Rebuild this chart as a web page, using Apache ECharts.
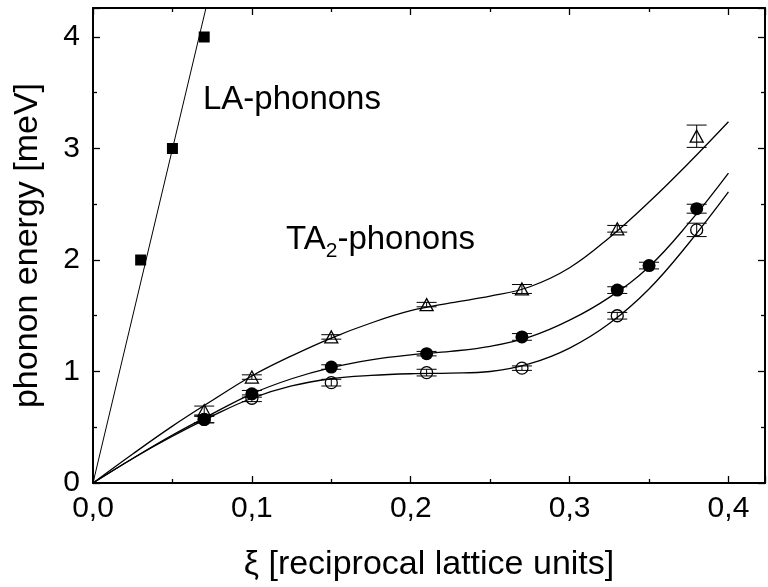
<!DOCTYPE html>
<html>
<head>
<meta charset="utf-8">
<title>phonon dispersion</title>
<script src="https://cdn.jsdelivr.net/npm/echarts@6/dist/echarts.min.js"></script>
<style>
  html, body { margin: 0; padding: 0; background: #fff; }
  #chart { width: 768px; height: 587px; }
</style>
</head>
<body>
<div id="chart"></div>
<script>
// LA-phonons: measured points and the straight fit line through the origin
const laX = [0.03, 0.05, 0.07];
const laY = [2, 3, 4];
const laLineX = [0, 0.0711];
const laLineY = [0, 4.26];

// TA2-phonons, three data sets (open triangles, filled circles, open circles)
const triX = [0.07, 0.10, 0.15, 0.21, 0.27, 0.33, 0.38];
const triY = [0.65, 0.95, 1.31, 1.60, 1.74, 2.28, 3.11];
const triErr = [0.04, 0.02, 0.02, 0.02, 0.04, 0.03, 0.10];

const dotX = [0.07, 0.10, 0.15, 0.21, 0.27, 0.33, 0.35, 0.38];
const dotY = [0.57, 0.80, 1.04, 1.16, 1.31, 1.73, 1.95, 2.46];
const dotErr = [0.03, 0.03, 0.02, 0.02, 0.03, 0.03, 0.03, 0.04];

const ringX = [0.07, 0.10, 0.15, 0.21, 0.27, 0.33, 0.38];
const ringY = [0.57, 0.76, 0.90, 0.99, 1.03, 1.50, 2.27];
const ringErr = [0.03, 0.03, 0.03, 0.03, 0.02, 0.03, 0.06];

// fitted curves
const curveX = [0, 0.025, 0.05, 0.075, 0.1, 0.125, 0.15, 0.175, 0.2, 0.225, 0.25, 0.275, 0.3, 0.325, 0.35, 0.375, 0.4];
const triCurve = [0, 0.26, 0.51, 0.74, 0.96, 1.14, 1.30, 1.435, 1.545, 1.615, 1.675, 1.76, 1.93, 2.20, 2.52, 2.87, 3.24];
const dotCurve = [0, 0.22, 0.43, 0.62, 0.80, 0.935, 1.035, 1.105, 1.15, 1.18, 1.225, 1.31, 1.46, 1.665, 1.94, 2.33, 2.78];
const ringCurve = [0, 0.22, 0.42, 0.60, 0.76, 0.87, 0.935, 0.965, 0.98, 0.985, 1.00, 1.07, 1.21, 1.43, 1.74, 2.15, 2.61];

// axis ranges and ticks
const xMin = 0, xMax = 0.423, xStep = 0.1;
const yMin = 0, yMax = 4.26, yStep = 1;

const FONT = '"Liberation Sans", Arial, sans-serif';

const zip = (xs, ys) => xs.map((x, i) => [x, ys[i]]);
const zip3 = (xs, ys, es) => xs.map((x, i) => [x, ys[i], es[i]]);

function errorBar(params, api) {
  const x = api.value(0), y = api.value(1), e = api.value(2);
  const hi = api.coord([x, y + e]);
  const lo = api.coord([x, y - e]);
  const half = 10;
  const style = { stroke: '#000', lineWidth: 1 };
  return {
    type: 'group',
    children: [
      { type: 'line', shape: { x1: hi[0], y1: hi[1], x2: lo[0], y2: lo[1] }, style: style },
      { type: 'line', shape: { x1: hi[0] - half, y1: hi[1], x2: hi[0] + half, y2: hi[1] }, style: style },
      { type: 'line', shape: { x1: lo[0] - half, y1: lo[1], x2: lo[0] + half, y2: lo[1] }, style: style }
    ]
  };
}

function xLabel(v) {
  const k = v / xStep;
  if (Math.abs(k - Math.round(k)) > 1e-6) return '';
  return v.toFixed(1).replace('.', ',');
}
function yLabel(v) {
  if (Math.abs(v - Math.round(v)) > 1e-6) return '';
  return String(Math.round(v));
}

const axisCommon = {
  type: 'value',
  axisLine: { show: true, onZero: false, lineStyle: { color: '#000', width: 2 } },
  axisTick: { show: true, inside: true, length: 7, lineStyle: { color: '#000', width: 1.3 } },
  minorTick: { show: true, splitNumber: 2, length: 4, lineStyle: { color: '#000', width: 1.3 } },
  splitLine: { show: false },
  minorSplitLine: { show: false }
};

const chart = echarts.init(document.getElementById('chart'), null, { renderer: 'canvas' });

const option = {
  backgroundColor: '#fff',
  animation: false,
  grid: { left: 93, top: 8, right: -2, bottom: 104 },
  xAxis: [
    Object.assign({}, axisCommon, {
      position: 'bottom', min: xMin, max: xMax, interval: xStep,
      axisLabel: { show: true, formatter: xLabel, color: '#000', fontSize: 30, fontFamily: FONT, margin: 11 },
      name: 'ξ [reciprocal lattice units]', nameLocation: 'middle', nameGap: 65,
      nameTextStyle: { color: '#000', fontSize: 34, fontFamily: FONT }
    }),
    Object.assign({}, axisCommon, {
      position: 'top', min: xMin, max: xMax, interval: xStep,
      axisLabel: { show: false }
    })
  ],
  yAxis: [
    Object.assign({}, axisCommon, {
      position: 'left', min: yMin, max: yMax, interval: yStep,
      axisLabel: { show: true, formatter: yLabel, color: '#000', fontSize: 30, fontFamily: FONT, margin: 13 },
      name: 'phonon energy [meV]', nameLocation: 'middle', nameGap: 48,
      nameTextStyle: { color: '#000', fontSize: 34, fontFamily: FONT }
    }),
    Object.assign({}, axisCommon, {
      position: 'right', min: yMin, max: yMax, interval: yStep,
      axisLabel: { show: false }
    })
  ],
  graphic: [
    {
      type: 'text', left: 203, top: 83, z: 10,
      style: { text: 'LA-phonons', fill: '#000', font: '33px ' + FONT }
    },
    {
      type: 'text', left: 286, top: 223, z: 10,
      style: {
        text: '{a|TA}{b|2}{a|-phonons}',
        rich: {
          a: { fontSize: 33, fontFamily: FONT, fill: '#000' },
          b: { fontSize: 21, fontFamily: FONT, fill: '#000', verticalAlign: 'bottom', padding: [0, 0, -6, 0] }
        }
      }
    }
  ],
  series: [
    {
      type: 'line', data: zip(laLineX, laLineY), showSymbol: false, clip: true,
      lineStyle: { color: '#000', width: 1 }, z: 2
    },
    {
      type: 'line', data: zip(curveX, triCurve), showSymbol: false, smooth: 0.4,
      lineStyle: { color: '#000', width: 1.3 }, z: 2
    },
    {
      type: 'line', data: zip(curveX, dotCurve), showSymbol: false, smooth: 0.4,
      lineStyle: { color: '#000', width: 1.3 }, z: 2
    },
    {
      type: 'line', data: zip(curveX, ringCurve), showSymbol: false, smooth: 0.4,
      lineStyle: { color: '#000', width: 1.3 }, z: 2
    },
    {
      type: 'custom', renderItem: errorBar, data: zip3(triX, triY, triErr), z: 3
    },
    {
      type: 'custom', renderItem: errorBar, data: zip3(dotX, dotY, dotErr), z: 3
    },
    {
      type: 'custom', renderItem: errorBar, data: zip3(ringX, ringY, ringErr), z: 3
    },
    {
      type: 'scatter', data: zip(laX, laY), symbol: 'rect', symbolSize: 11,
      itemStyle: { color: '#000', opacity: 1 }, z: 4
    },
    {
      type: 'scatter', data: zip(triX, triY), symbol: 'triangle', symbolSize: [13, 12],
      itemStyle: { color: 'rgba(0,0,0,0)', borderColor: '#000', borderWidth: 1.3, opacity: 1 }, z: 4
    },
    {
      type: 'scatter', data: zip(dotX, dotY), symbol: 'circle', symbolSize: 13,
      itemStyle: { color: '#000', opacity: 1 }, z: 4
    },
    {
      type: 'scatter', data: zip(ringX, ringY), symbol: 'circle', symbolSize: 12,
      itemStyle: { color: 'rgba(0,0,0,0)', borderColor: '#000', borderWidth: 1.3, opacity: 1 }, z: 4
    }
  ]
};

chart.setOption(option);
</script>
</body>
</html>
